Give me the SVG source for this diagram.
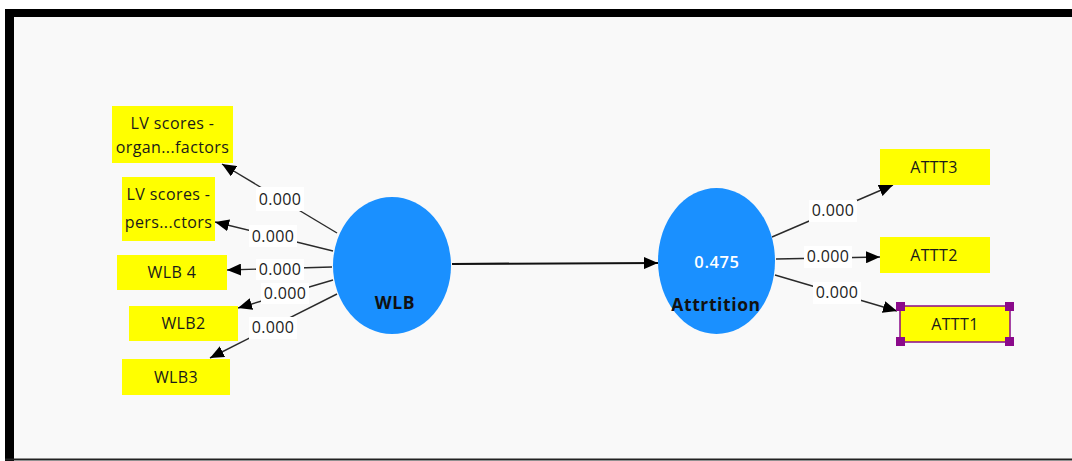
<svg xmlns="http://www.w3.org/2000/svg" width="1072" height="461" viewBox="0 0 1072 461">
  <style>
    .ind rect { fill: #ffff00; }
    .ind rect.handle { fill: #8b0a8b; }
    .ind text { font-family: "Open Sans", "Noto Sans", sans-serif; font-size: 16px; fill: #1a1a1a; text-anchor: middle; letter-spacing: 0.4px; }
    .lv ellipse { fill: #1a90ff; }
    .lvname { font-family: "Open Sans", "Noto Sans", sans-serif; font-size: 17.5px; font-weight: bold; fill: #111; text-anchor: middle; letter-spacing: 0.6px; }
    .r2 { font-family: "Open Sans", "Noto Sans", sans-serif; font-size: 16.5px; font-weight: 600; fill: #fff; text-anchor: middle; letter-spacing: 0.6px; }
    .edge { stroke: #2a2a2a; stroke-width: 1.4; fill: none; marker-end: url(#ah); }
    .path { stroke: #111; stroke-width: 2.2; fill: none; marker-end: url(#ah); }
    .lbl rect { fill: #ffffff; }
    .lbl text { font-family: "Open Sans", "Noto Sans", sans-serif; font-size: 16px; fill: #222; text-anchor: middle; letter-spacing: 0.3px; }
  </style>
  <defs>
    <marker id="ah" markerUnits="userSpaceOnUse" viewBox="0 0 14 12" refX="14" refY="6" markerWidth="14" markerHeight="12" orient="auto">
      <path d="M0,0 L14,6 L0,12 z" fill="#000"/>
    </marker>
  </defs>

  <!-- canvas and frame -->
  <rect x="0" y="0" width="1072" height="461" fill="#ffffff"/>
  <rect x="10" y="13" width="1062" height="446" fill="#f9f9f9"/>
  <rect x="6" y="9" width="1066" height="8" fill="#000"/>
  <rect x="5" y="9" width="9" height="452" fill="#000"/>
  <rect x="5" y="458.5" width="1067" height="2" fill="#222"/>

  <!-- connectors -->
  <g id="connectors">
    <line class="edge" x1="337" y1="233" x2="222" y2="164"/>
    <line class="edge" x1="333" y1="251" x2="215" y2="222"/>
    <line class="edge" x1="332" y1="267" x2="227" y2="270"/>
    <line class="edge" x1="333" y1="280" x2="238" y2="308"/>
    <line class="edge" x1="337" y1="294" x2="210" y2="358"/>
    <line class="path" x1="452" y1="264" x2="658" y2="263"/>
    <line class="edge" x1="772" y1="237" x2="893" y2="185"/>
    <line class="edge" x1="776" y1="259" x2="880" y2="257"/>
    <line class="edge" x1="775" y1="275" x2="897" y2="311"/>

    <g class="lbl">
      <rect x="256" y="187" width="48" height="24"/>
      <text x="280" y="205">0.000</text>
      <rect x="249" y="225" width="48" height="22"/>
      <text x="273" y="242">0.000</text>
      <rect x="256" y="259" width="48" height="21"/>
      <text x="280" y="275">0.000</text>
      <rect x="261" y="283" width="48" height="21"/>
      <text x="285" y="299">0.000</text>
      <rect x="249" y="317" width="48" height="22"/>
      <text x="273" y="333">0.000</text>
      <rect x="809" y="200" width="48" height="22"/>
      <text x="833" y="216">0.000</text>
      <rect x="804" y="246" width="48" height="22"/>
      <text x="828" y="262">0.000</text>
      <rect x="813" y="282" width="48" height="22"/>
      <text x="837" y="298">0.000</text>
    </g>
  </g>

  <!-- latent variables -->
  <g id="WLB" class="lv">
    <ellipse cx="392" cy="265.5" rx="59" ry="68.5"/>
    <text class="lvname" x="395" y="309">WLB</text>
  </g>
  <g id="Attrtition" class="lv">
    <ellipse cx="716.5" cy="261" rx="58.5" ry="73"/>
    <text class="r2" x="717" y="268">0.475</text>
    <text class="lvname" x="716" y="311">Attrtition</text>
  </g>

  <!-- indicators -->
  <g id="lv-organ" class="ind">
    <rect x="112" y="106" width="121" height="57"/>
    <text x="172.5" y="129">LV scores -</text>
    <text x="172.5" y="153">organ...factors</text>
  </g>
  <g id="lv-pers" class="ind">
    <rect x="122" y="177" width="93" height="64"/>
    <text x="168.5" y="200">LV scores  -</text>
    <text x="168.5" y="228">pers...ctors</text>
  </g>
  <g id="WLB4" class="ind">
    <rect x="117" y="255" width="110" height="35"/>
    <text x="172" y="278">WLB 4</text>
  </g>
  <g id="WLB2" class="ind">
    <rect x="129" y="306" width="109" height="35"/>
    <text x="183.5" y="329">WLB2</text>
  </g>
  <g id="WLB3" class="ind">
    <rect x="122" y="359" width="108" height="36"/>
    <text x="176" y="383">WLB3</text>
  </g>
  <g id="ATTT3" class="ind">
    <rect x="880" y="149" width="110" height="36"/>
    <text x="934" y="173">ATTT3</text>
  </g>
  <g id="ATTT2" class="ind">
    <rect x="880" y="237" width="110" height="36"/>
    <text x="934" y="261">ATTT2</text>
  </g>
  <g id="ATTT1" class="ind">
    <rect x="900" y="306" width="110" height="36" stroke="#8b0a8b" stroke-width="1.5"/>
    <text x="955" y="330">ATTT1</text>
    <rect class="handle" x="896" y="302" width="9" height="9"/>
    <rect class="handle" x="1005" y="302" width="9" height="9"/>
    <rect class="handle" x="896" y="337" width="9" height="9"/>
    <rect class="handle" x="1005" y="337" width="9" height="9"/>
  </g>
</svg>
